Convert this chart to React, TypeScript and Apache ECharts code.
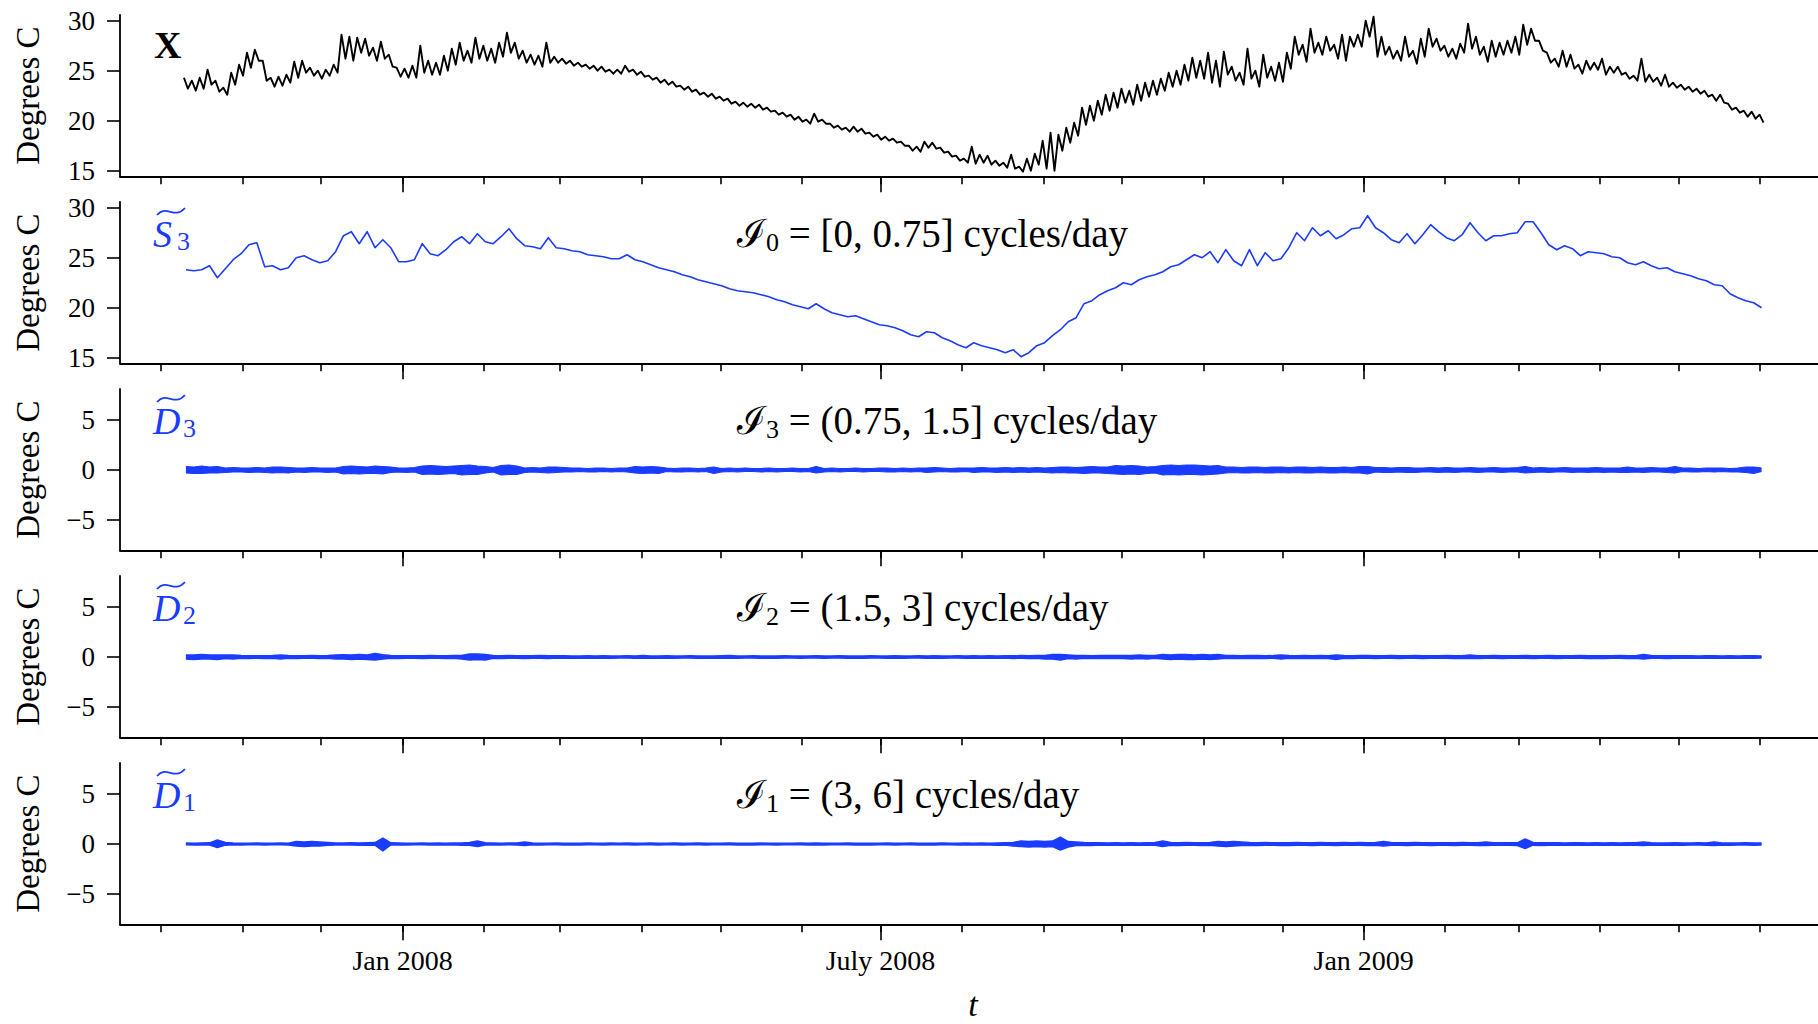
import React, { useEffect, useRef } from "react";
import * as echarts from "echarts";

// Time is measured in days from 1 Jan 2008. Each bin covers 3 days,
// the first one starting on 9 Oct 2007.
const startDay = -84;
const binDays = 3;

// Month starts (Oct 2007 .. Jun 2009) and the labelled ticks
const monthTicks = [-92, -61, -31, 0, 31, 60, 91, 121, 152, 182, 213, 244, 274, 305, 335, 366, 397, 425, 456, 486, 517];
const majorTicks = [0, 182, 366];
const majorLabels = ["Jan 2008", "July 2008", "Jan 2009"];
const levelTicks = [15, 20, 25, 30];
const detailTicks = [-5, 0, 5];

// Observed temperature X: high / low within each bin
const xHi = [
  24.3, 24.0, 24.3, 25.1, 24.0, 23.3, 24.8, 25.6, 26.8, 27.1,
  26.0, 24.3, 24.4, 24.6, 25.9, 26.0, 25.3, 25.0, 25.1, 25.6,
  28.6, 28.4, 28.3, 28.2, 27.3, 27.9, 26.6, 25.3, 25.2, 25.5,
  27.5, 26.0, 25.8, 26.5, 27.2, 27.8, 27.0, 28.3, 27.5, 27.2,
  27.8, 28.8, 27.8, 27.0, 26.6, 26.5, 27.8, 26.4, 26.2, 26.0,
  25.8, 25.6, 25.5, 25.4, 25.1, 25.1, 25.5, 25.1, 24.9, 24.5,
  24.3, 24.1, 23.9, 23.5, 23.4, 23.1, 22.8, 22.7, 22.4, 22.2,
  21.9, 21.8, 21.7, 21.6, 21.3, 21.0, 20.8, 20.6, 20.4, 20.1,
  20.7, 20.1, 19.7, 19.5, 19.3, 19.4, 19.2, 18.8, 18.6, 18.4,
  18.2, 17.9, 17.5, 17.4, 17.9, 17.8, 17.3, 16.9, 16.5, 16.2,
  17.4, 16.6, 16.5, 16.0, 15.8, 16.6, 15.4, 16.2, 16.7, 18.0,
  18.8, 18.6, 19.3, 19.8, 21.3, 21.5, 22.0, 22.6, 22.8, 23.2,
  23.0, 23.6, 23.8, 24.0, 24.2, 24.8, 25.0, 25.6, 26.3, 26.0,
  26.8, 26.0, 26.9, 25.4, 24.8, 27.2, 25.0, 26.6, 25.4, 25.8,
  26.8, 28.4, 27.6, 29.2, 27.8, 28.4, 27.6, 28.6, 28.4, 28.6,
  30.0, 30.4, 28.4, 27.4, 27.0, 28.4, 27.0, 28.2, 29.2, 28.2,
  27.5, 27.2, 27.7, 29.7, 28.4, 27.4, 28.0, 27.8, 28.0, 28.4,
  29.6, 29.2, 28.0, 26.8, 26.2, 27.0, 26.6, 25.6, 26.0, 25.8,
  26.2, 25.4, 25.4, 24.8, 24.5, 26.2, 24.6, 24.3, 24.6, 23.8,
  23.6, 23.4, 23.2, 23.0, 22.6, 22.6, 21.7, 21.3, 21.0, 20.9,
  20.6,
];
const xLo = [
  23.2, 23.0, 23.2, 23.6, 22.9, 22.6, 23.6, 24.5, 25.3, 26.0,
  24.0, 23.4, 23.5, 23.8, 24.3, 24.8, 24.5, 24.2, 24.5, 24.8,
  26.2, 26.0, 26.8, 26.5, 26.0, 26.2, 25.4, 24.4, 24.3, 24.3,
  24.8, 24.6, 24.6, 25.0, 25.6, 26.0, 25.8, 26.2, 26.0, 25.8,
  26.4, 26.8, 26.2, 25.8, 25.6, 25.4, 25.8, 25.8, 25.7, 25.5,
  25.4, 25.2, 25.0, 24.9, 24.7, 24.7, 24.9, 24.6, 24.4, 24.1,
  23.8, 23.6, 23.4, 23.1, 22.9, 22.6, 22.4, 22.2, 22.0, 21.7,
  21.5, 21.4, 21.3, 21.1, 20.9, 20.6, 20.4, 20.1, 19.9, 19.7,
  19.9, 19.7, 19.3, 19.1, 18.9, 18.9, 18.7, 18.4, 18.1, 18.0,
  17.8, 17.5, 17.0, 16.9, 17.3, 17.2, 16.8, 16.4, 16.0, 15.8,
  15.7, 15.8, 15.6, 15.5, 15.3, 15.2, 14.9, 15.0, 15.6, 15.2,
  15.0, 17.0, 17.8, 18.5, 19.6, 20.0, 20.6, 21.0, 21.3, 21.8,
  21.6, 22.0, 22.4, 22.6, 23.0, 23.4, 23.6, 24.0, 24.3, 24.2,
  23.8, 23.4, 24.6, 24.0, 23.6, 24.2, 23.4, 24.3, 24.0, 23.9,
  25.2, 26.6, 25.9, 26.8, 26.6, 27.0, 26.2, 26.0, 27.4, 27.4,
  28.4, 26.4, 26.6, 26.2, 26.0, 26.4, 25.7, 26.4, 27.4, 27.0,
  26.4, 26.2, 26.8, 27.2, 26.6, 25.9, 26.4, 26.6, 26.8, 26.6,
  27.6, 28.0, 27.0, 25.8, 25.4, 25.4, 25.2, 24.7, 25.1, 25.1,
  24.6, 24.8, 24.6, 24.2, 24.0, 23.9, 23.9, 23.5, 23.4, 23.3,
  23.1, 22.9, 22.7, 22.4, 22.0, 21.8, 21.1, 20.8, 20.4, 20.2,
  19.8,
];

// Smooth component S3 (one value per bin)
const s3 = [
  23.8, 23.7, 23.8, 24.2, 23.0, 23.9, 24.8, 25.4, 26.3, 26.5,
  24.1, 24.2, 23.8, 24.0, 25.0, 25.2, 24.8, 24.5, 24.7, 25.6,
  27.2, 27.6, 26.4, 27.6, 26.0, 26.8, 26.0, 24.6, 24.6, 24.8,
  26.4, 25.4, 25.2, 25.8, 26.6, 27.1, 26.4, 27.4, 26.6, 26.4,
  27.1, 27.9, 26.9, 26.2, 26.1, 25.9, 27.0, 26.0, 25.9, 25.7,
  25.6, 25.3, 25.2, 25.1, 24.9, 24.9, 25.3, 24.8, 24.6, 24.3,
  24.0, 23.8, 23.6, 23.3, 23.1, 22.8, 22.6, 22.4, 22.2, 21.9,
  21.7, 21.6, 21.5, 21.3, 21.1, 20.8, 20.6, 20.3, 20.1, 19.9,
  20.4, 19.9, 19.5, 19.3, 19.1, 19.2, 18.9, 18.6, 18.3, 18.2,
  18.0, 17.7, 17.3, 17.1, 17.6, 17.5, 17.0, 16.7, 16.3, 16.0,
  16.5, 16.2, 16.0, 15.8, 15.5, 15.8, 15.1, 15.5, 16.2, 16.5,
  17.2, 17.8, 18.6, 19.0, 20.4, 20.7, 21.3, 21.7, 22.0, 22.5,
  22.3, 22.8, 23.1, 23.3, 23.6, 24.1, 24.3, 24.8, 25.3, 25.0,
  25.6, 24.5, 25.8, 24.7, 24.2, 25.8, 24.2, 25.5, 24.7, 24.9,
  26.0, 27.5, 26.7, 28.0, 27.2, 27.7, 26.9, 27.3, 27.9, 28.0,
  29.2, 28.0, 27.5, 26.8, 26.5, 27.4, 26.4, 27.3, 28.3, 27.6,
  27.0, 26.7, 27.3, 28.5, 27.5, 26.7, 27.2, 27.2, 27.4, 27.5,
  28.6, 28.6, 27.5, 26.3, 25.8, 26.2, 25.9, 25.2, 25.6, 25.5,
  25.4, 25.1, 25.0, 24.5, 24.3, 24.6, 24.2, 23.9, 24.0, 23.6,
  23.4, 23.2, 22.9, 22.7, 22.3, 22.2, 21.4, 21.0, 20.7, 20.5,
  20.0,
];

// Detail D3: upper / lower edge of the band within each bin
const d3Hi = [
  .35, .3, .4, .3, .35, .2, .25, .2, .2, .25,
  .2, .3, .3, .25, .2, .2, .25, .2, .2, .2,
  .35, .4, .35, .3, .4, .35, .3, .2, .2, .25,
  .4, .45, .4, .35, .4, .45, .5, .4, .35, .25,
  .45, .5, .4, .2, .25, .2, .3, .3, .25, .2,
  .2, .15, .2, .2, .15, .2, .2, .35, .3, .35,
  .3, .2, .15, .2, .2, .15, .2, .3, .15, .2,
  .15, .2, .15, .15, .2, .15, .15, .2, .15, .15,
  .35, .15, .2, .15, .15, .2, .15, .15, .2, .2,
  .15, .2, .15, .2, .2, .25, .2, .15, .2, .2,
  .2, .25, .2, .2, .25, .2, .25, .2, .25, .2,
  .25, .3, .3, .25, .3, .35, .3, .3, .45, .4,
  .45, .4, .3, .35, .45, .5, .45, .5, .5, .45,
  .4, .45, .3, .3, .25, .3, .3, .25, .3, .3,
  .25, .3, .3, .25, .3, .25, .25, .3, .25, .35,
  .35, .25, .25, .2, .25, .25, .2, .2, .25, .2,
  .25, .2, .2, .25, .2, .2, .25, .2, .2, .25,
  .35, .2, .25, .2, .2, .25, .2, .2, .2, .25,
  .2, .2, .2, .3, .2, .2, .25, .2, .2, .35,
  .2, .2, .15, .2, .2, .2, .15, .2, .3, .3,
  .2,
];
const d3Lo = [
  -.3, -.35, -.35, -.3, -.3, -.25, -.2, -.2, -.25, -.2,
  -.25, -.3, -.25, -.3, -.2, -.25, -.2, -.2, -.25, -.2,
  -.4, -.35, -.4, -.35, -.35, -.4, -.25, -.2, -.25, -.2,
  -.45, -.4, -.45, -.4, -.35, -.5, -.45, -.45, -.3, -.2,
  -.5, -.45, -.45, -.25, -.2, -.25, -.3, -.25, -.2, -.2,
  -.15, -.2, -.2, -.15, -.2, -.15, -.2, -.3, -.35, -.3,
  -.35, -.15, -.2, -.2, -.15, -.2, -.15, -.35, -.2, -.15,
  -.2, -.15, -.15, -.2, -.15, -.2, -.15, -.15, -.2, -.15,
  -.3, -.2, -.15, -.2, -.15, -.15, -.2, -.15, -.15, -.2,
  -.2, -.15, -.2, -.15, -.25, -.2, -.15, -.2, -.2, -.15,
  -.25, -.2, -.2, -.25, -.2, -.25, -.2, -.25, -.2, -.25,
  -.3, -.25, -.3, -.3, -.35, -.3, -.3, -.35, -.4, -.45,
  -.4, -.45, -.35, -.3, -.5, -.45, -.5, -.45, -.45, -.5,
  -.45, -.4, -.3, -.25, -.3, -.3, -.25, -.3, -.3, -.25,
  -.3, -.25, -.3, -.3, -.25, -.3, -.3, -.25, -.3, -.3,
  -.4, -.2, -.25, -.25, -.2, -.25, -.25, -.2, -.2, -.25,
  -.2, -.25, -.2, -.2, -.25, -.2, -.2, -.25, -.2, -.2,
  -.3, -.25, -.2, -.25, -.2, -.2, -.25, -.2, -.25, -.2,
  -.25, -.2, -.25, -.25, -.2, -.25, -.2, -.2, -.25, -.3,
  -.15, -.2, -.2, -.15, -.2, -.15, -.2, -.2, -.25, -.35,
  -.15,
];

// Detail D2
const d2Hi = [
  .2, .2, .25, .2, .2, .2, .2, .15, .12, .12,
  .12, .15, .2, .15, .12, .12, .15, .12, .15, .2,
  .22, .2, .25, .2, .35, .22, .15, .12, .12, .12,
  .12, .15, .12, .12, .15, .15, .3, .3, .25, .15,
  .12, .15, .12, .12, .12, .15, .12, .12, .12, .1,
  .1, .12, .1, .12, .1, .1, .12, .1, .15, .1,
  .1, .12, .1, .1, .12, .1, .1, .1, .12, .15,
  .1, .1, .12, .1, .1, .1, .12, .1, .1, .1,
  .12, .1, .1, .12, .1, .1, .1, .12, .1, .1,
  .12, .1, .1, .12, .1, .12, .1, .1, .12, .1,
  .12, .1, .12, .1, .12, .12, .15, .12, .15, .15,
  .25, .25, .2, .15, .15, .12, .15, .15, .15, .15,
  .15, .2, .15, .15, .25, .2, .25, .25, .2, .25,
  .2, .25, .15, .15, .12, .15, .15, .12, .15, .2,
  .15, .12, .15, .12, .15, .12, .2, .15, .12, .15,
  .15, .12, .12, .15, .12, .12, .15, .12, .12, .12,
  .15, .12, .12, .2, .12, .12, .15, .12, .12, .12,
  .15, .12, .12, .15, .12, .12, .12, .15, .12, .12,
  .12, .12, .15, .12, .12, .25, .15, .12, .12, .12,
  .12, .12, .1, .12, .12, .1, .12, .1, .12, .12,
  .1,
];
const d2Lo = [
  -.2, -.25, -.2, -.2, -.25, -.15, -.2, -.12, -.15, -.12,
  -.15, -.12, -.2, -.12, -.15, -.12, -.12, -.15, -.12, -.2,
  -.2, -.25, -.2, -.25, -.3, -.2, -.12, -.15, -.12, -.12,
  -.15, -.12, -.12, -.15, -.12, -.2, -.3, -.25, -.3, -.12,
  -.15, -.12, -.12, -.15, -.12, -.12, -.15, -.1, -.12, -.12,
  -.12, -.1, -.12, -.1, -.12, -.1, -.1, -.12, -.12, -.12,
  -.12, -.1, -.12, -.1, -.1, -.12, -.1, -.12, -.1, -.12,
  -.12, -.1, -.1, -.12, -.1, -.12, -.1, -.1, -.12, -.1,
  -.1, -.12, -.1, -.1, -.12, -.1, -.12, -.1, -.1, -.12,
  -.1, -.12, -.1, -.1, -.12, -.1, -.12, -.1, -.1, -.12,
  -.1, -.12, -.1, -.12, -.1, -.15, -.12, -.15, -.12, -.2,
  -.2, -.3, -.15, -.2, -.12, -.15, -.12, -.15, -.12, -.15,
  -.2, -.15, -.2, -.12, -.2, -.25, -.2, -.25, -.25, -.2,
  -.25, -.2, -.12, -.15, -.15, -.12, -.15, -.15, -.12, -.2,
  -.12, -.15, -.12, -.15, -.12, -.15, -.25, -.12, -.15, -.12,
  -.12, -.15, -.12, -.12, -.15, -.12, -.12, -.15, -.12, -.12,
  -.12, -.15, -.12, -.15, -.15, -.12, -.12, -.15, -.12, -.12,
  -.12, -.15, -.12, -.12, -.15, -.12, -.12, -.12, -.15, -.12,
  -.15, -.12, -.12, -.15, -.12, -.2, -.12, -.12, -.15, -.12,
  -.1, -.12, -.12, -.1, -.12, -.12, -.1, -.12, -.1, -.12,
  -.1,
];

// Detail D1
const d1Hi = [
  .1, .08, .1, .12, .4, .15, .1, .08, .08, .1,
  .08, .08, .1, .08, .25, .2, .25, .2, .15, .1,
  .1, .12, .1, .12, .15, .6, .12, .1, .08, .08,
  .1, .08, .1, .08, .1, .1, .15, .3, .12, .1,
  .08, .1, .1, .2, .1, .08, .08, .1, .08, .08,
  .08, .1, .08, .08, .1, .08, .1, .08, .08, .1,
  .08, .08, .1, .08, .08, .1, .08, .08, .08, .1,
  .08, .08, .08, .1, .08, .08, .08, .08, .1, .08,
  .1, .08, .08, .08, .1, .08, .08, .08, .08, .1,
  .08, .08, .1, .08, .08, .08, .1, .08, .08, .1,
  .08, .1, .08, .1, .12, .15, .3, .25, .3, .25,
  .3, .7, .25, .2, .15, .12, .12, .1, .12, .1,
  .12, .1, .12, .15, .3, .15, .12, .15, .12, .12,
  .15, .25, .2, .25, .2, .15, .12, .15, .12, .12,
  .12, .15, .12, .12, .15, .12, .12, .15, .12, .15,
  .12, .15, .25, .15, .12, .12, .15, .12, .12, .12,
  .12, .12, .15, .12, .12, .2, .12, .12, .12, .12,
  .5, .15, .12, .12, .12, .1, .12, .12, .1, .12,
  .1, .12, .1, .12, .12, .2, .12, .1, .1, .12,
  .1, .1, .12, .1, .2, .1, .1, .1, .12, .1,
  .1,
];
const d1Lo = [
  -.08, -.1, -.1, -.1, -.35, -.12, -.08, -.1, -.08, -.08,
  -.1, -.08, -.08, -.1, -.2, -.25, -.2, -.2, -.12, -.1,
  -.08, -.1, -.12, -.1, -.12, -.7, -.1, -.08, -.1, -.08,
  -.08, -.1, -.08, -.1, -.08, -.12, -.12, -.25, -.1, -.08,
  -.1, -.08, -.1, -.15, -.08, -.1, -.08, -.08, -.1, -.08,
  -.1, -.08, -.08, -.1, -.08, -.08, -.08, -.1, -.08, -.08,
  -.1, -.08, -.08, -.1, -.08, -.08, -.1, -.08, -.08, -.08,
  -.1, -.08, -.1, -.08, -.08, -.1, -.08, -.08, -.08, -.1,
  -.08, -.1, -.08, -.08, -.08, -.1, -.08, -.1, -.08, -.08,
  -.1, -.08, -.08, -.1, -.08, -.1, -.08, -.08, -.1, -.08,
  -.1, -.08, -.1, -.12, -.1, -.2, -.25, -.3, -.25, -.3,
  -.25, -.6, -.3, -.15, -.12, -.15, -.1, -.12, -.1, -.12,
  -.1, -.12, -.1, -.12, -.25, -.12, -.15, -.12, -.12, -.15,
  -.12, -.2, -.25, -.2, -.15, -.12, -.15, -.12, -.12, -.15,
  -.15, -.12, -.12, -.15, -.12, -.12, -.15, -.12, -.12, -.12,
  -.15, -.12, -.2, -.12, -.12, -.15, -.12, -.12, -.15, -.12,
  -.12, -.15, -.12, -.12, -.15, -.15, -.12, -.12, -.12, -.15,
  -.45, -.12, -.15, -.12, -.1, -.12, -.12, -.1, -.12, -.1,
  -.12, -.1, -.12, -.1, -.12, -.15, -.1, -.12, -.12, -.1,
  -.12, -.1, -.1, -.12, -.15, -.1, -.12, -.1, -.1, -.12,
  -.1,
];

// Frequency band of each component: index digit and interval
const bandIndex = ["0", "3", "2", "1"];
const bandRanges = ["[0, 0.75]", "(0.75, 1.5]", "(1.5, 3]", "(3, 6]"];
const componentLetters = ["S", "D", "D", "D"];
const componentIndex = ["3", "3", "2", "1"];
const timeLabel = "t";

// ---- layout & style ----
const SERIF = "'Liberation Serif', 'DejaVu Serif', serif";
const BLUE = "#1a3cff";
const BLACK = "#000000";
const GRID_LEFT = 120;
const PANEL_TOPS = [15, 202, 389, 576, 763];
const PANEL_H = 161.3;
const X_MIN = -107.6;
const X_MAX = 539;
const LEVEL_RANGE = [14.44, 30.57];
const DETAIL_RANGE = [-8.03, 8.1];

const binMid = (i: number) => startDay + binDays * i + 1.5;

// Two points per bin (high, then low) give the jagged trace
function envelope(hi: number[], lo: number[]) {
  const out: number[][] = [];
  for (let i = 0; i < hi.length; i++) {
    const d = startDay + binDays * i;
    out.push([d + 0.75, hi[i]]);
    out.push([d + 2.25, lo[i]]);
  }
  return out;
}

function perBin(v: number[]) {
  return v.map((y, i) => [binMid(i), y]);
}

const axisLineStyle = { color: BLACK, width: 1.8 };
const tickLineStyle = { color: BLACK, width: 1.6 };

function buildOption() {
  const grid = PANEL_TOPS.map((top) => ({
    left: GRID_LEFT,
    right: 0,
    top,
    height: PANEL_H,
    outerBoundsMode: "none",
    containLabel: false,
  }));

  const xAxis: any[] = [];
  PANEL_TOPS.forEach((_, k) => {
    const last = k === PANEL_TOPS.length - 1;
    // monthly ticks and the axis line
    xAxis.push({
      gridIndex: k,
      type: "value",
      position: "bottom",
      min: X_MIN,
      max: X_MAX,
      axisLine: { show: true, onZero: false, lineStyle: axisLineStyle },
      axisTick: { show: true, length: 8, customValues: monthTicks, lineStyle: tickLineStyle },
      axisLabel: { show: false },
      splitLine: { show: false },
    });
    // longer labelled ticks
    xAxis.push({
      gridIndex: k,
      type: "value",
      position: "bottom",
      min: X_MIN,
      max: X_MAX,
      axisLine: { show: false, onZero: false },
      axisTick: { show: true, length: 16, customValues: majorTicks, lineStyle: tickLineStyle },
      axisLabel: {
        show: last,
        customValues: majorTicks,
        formatter: (v: number) => majorLabels[majorTicks.indexOf(v)] ?? "",
        margin: 22,
        color: BLACK,
        fontFamily: SERIF,
        fontSize: 28,
      },
      splitLine: { show: false },
    });
  });

  const yAxis = PANEL_TOPS.map((_, k) => {
    const level = k < 2;
    const ticks = level ? levelTicks : detailTicks;
    const range = level ? LEVEL_RANGE : DETAIL_RANGE;
    return {
      gridIndex: k,
      type: "value",
      min: range[0],
      max: range[1],
      axisLine: { show: true, onZero: false, lineStyle: axisLineStyle },
      axisTick: { show: true, length: 13, customValues: ticks, lineStyle: tickLineStyle },
      axisLabel: {
        customValues: ticks,
        formatter: (v: number) => String(v).replace("-", "\u2212"),
        margin: 25,
        color: BLACK,
        fontFamily: SERIF,
        fontSize: 27,
      },
      splitLine: { show: false },
      name: "Degrees C",
      nameLocation: "middle",
      nameRotate: 90,
      nameGap: 76,
      nameTextStyle: { fontFamily: SERIF, fontSize: 33, color: BLACK },
    };
  });

  const lineSeries = (k: number, data: number[][], color: string, width: number) => ({
    type: "line",
    xAxisIndex: 2 * k,
    yAxisIndex: k,
    data,
    showSymbol: false,
    symbol: "none",
    silent: true,
    lineStyle: { color, width, join: "round" },
    itemStyle: { color },
  });

  // Detail band: upper edge filled down to zero, lower edge filled up to zero
  const bandSeries = (k: number, hi: number[], lo: number[], edge: number) => [
    {
      ...lineSeries(k, perBin(hi), BLUE, edge),
      areaStyle: { color: BLUE, opacity: 1, origin: 0 },
    },
    {
      ...lineSeries(k, perBin(lo), BLUE, edge),
      areaStyle: { color: BLUE, opacity: 1, origin: 0 },
    },
  ];

  const series = [
    lineSeries(0, envelope(xHi, xLo), BLACK, 1.9),
    lineSeries(1, perBin(s3), BLUE, 1.6),
    ...bandSeries(2, d3Hi, d3Lo, 1.2),
    ...bandSeries(3, d2Hi, d2Lo, 1.4),
    ...bandSeries(4, d1Hi, d1Lo, 1.4),
  ];

  const graphics: any[] = [
    {
      type: "text",
      z: 100,
      x: 154,
      y: PANEL_TOPS[0] + 30,
      style: {
        text: "X",
        fill: BLACK,
        font: `bold 38px ${SERIF}`,
        align: "left",
        verticalAlign: "middle",
        textAlign: "left",
        textVerticalAlign: "middle",
      },
    },
    // time axis title
    {
      type: "text",
      z: 100,
      x: 973,
      y: 1004,
      style: {
        text: timeLabel,
        fill: BLACK,
        font: `italic 34px ${SERIF}`,
        lineHeight: 36,
        align: "center",
        verticalAlign: "middle",
        textAlign: "center",
        textVerticalAlign: "middle",
      },
    },
  ];

  componentLetters.forEach((letter, j) => {
    const top = PANEL_TOPS[j + 1];
    const subX = letter === "S" ? 177 : 183;
    graphics.push({
      type: "text",
      z: 100,
      x: 153,
      y: top + 32,
      style: {
        text: letter,
        fill: BLUE,
        font: `italic 38px ${SERIF}`,
        align: "left",
        verticalAlign: "middle",
        textAlign: "left",
        textVerticalAlign: "middle",
      },
    });
    graphics.push({
      type: "text",
      z: 100,
      x: subX,
      y: top + 39,
      style: {
        text: componentIndex[j],
        fill: BLUE,
        font: `26px ${SERIF}`,
        align: "left",
        verticalAlign: "middle",
        textAlign: "left",
        textVerticalAlign: "middle",
      },
    });
    graphics.push({
      type: "bezierCurve",
      z: 100,
      shape: {
        x1: 157, y1: top + 13,
        cpx1: 167, cpy1: top + 2,
        cpx2: 174, cpy2: top + 18,
        x2: 185, y2: top + 6,
      },
      style: { stroke: BLUE, lineWidth: 1.8, fill: null },
    });
    graphics.push({
      type: "text",
      z: 100,
      x: 737,
      y: top + 31,
      style: {
        text: `{i|ℐ}{s|${bandIndex[j]}}{r| = ${bandRanges[j]} cycles/day}`,
        fill: BLACK,
        font: `39px ${SERIF}`,
        align: "left",
        verticalAlign: "middle",
        textAlign: "left",
        textVerticalAlign: "middle",
        rich: {
          i: { fontSize: 39, fontFamily: SERIF, lineHeight: 45, fill: BLACK, verticalAlign: "middle" },
          s: { fontSize: 26, fontFamily: SERIF, lineHeight: 26, fill: BLACK, verticalAlign: "bottom" },
          r: { fontSize: 39, fontFamily: SERIF, lineHeight: 45, fill: BLACK, verticalAlign: "middle" },
        },
      },
    });
  });

  return {
    animation: false,
    backgroundColor: "#ffffff",
    grid,
    xAxis,
    yAxis,
    series,
    graphic: { elements: graphics },
  };
}

export default function App() {
  const ref = useRef<HTMLDivElement>(null);
  useEffect(() => {
    if (!ref.current) return;
    const chart = echarts.init(ref.current, undefined, { renderer: "svg" });
    chart.setOption(buildOption() as any);
    return () => chart.dispose();
  }, []);
  return (
    <div
      ref={ref}
      style={{ position: "absolute", left: 0, top: 0, width: 1818, height: 1024, background: "#fff" }}
    />
  );
}
